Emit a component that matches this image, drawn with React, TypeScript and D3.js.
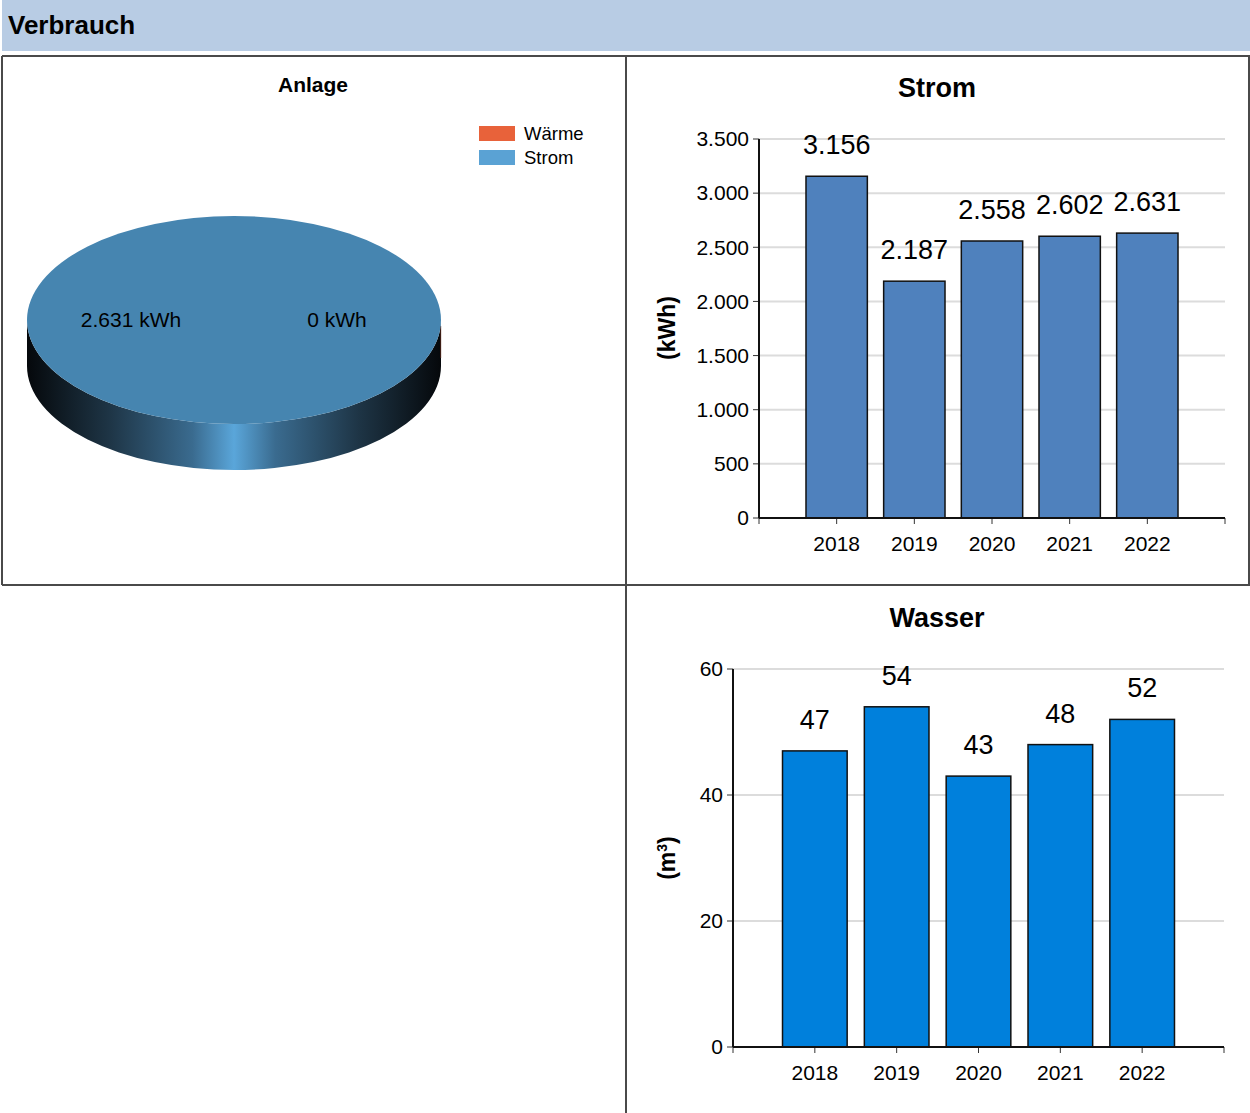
import React from "react";
import * as d3 from "d3";

const years = ["2018", "2019", "2020", "2021", "2022"];
const stromValues = [3156, 2187, 2558, 2602, 2631];
const wasserValues = [47, 54, 43, 48, 52];
const stromTicks = [0, 500, 1000, 1500, 2000, 2500, 3000, 3500];
const wasserTicks = [0, 20, 40, 60];
const pieLabels = ["Wärme", "Strom"];
const pieValues = [0, 2631];
const pieColors = ["#e8623a", "#5aa2d4"];

const locale = d3.formatLocale({ decimal: ",", thousands: ".", grouping: [3], currency: ["", "€"] });
const fmt = locale.format(",d");
const FONT = "'Liberation Sans', Arial, sans-serif";

type BarProps = {
  title: string;
  titleY: number;
  unit: React.ReactNode;
  unitX: number;
  unitY: number;
  values: number[];
  ticks: number[];
  yMax: number;
  x0: number;
  x1: number;
  y0: number;
  y1: number;
  color: string;
  labelYOffset: number;
};

function BarChart(p: BarProps) {
  const x = d3.scalePoint<string>().domain(years).range([p.x0, p.x1]).padding(1);
  const step = x.step();
  const bw = step * 0.79;
  const y = d3.scaleLinear().domain([0, p.yMax]).range([p.y0, p.y1]);
  return (
    <g fontFamily={FONT}>
      <text x={937} y={p.titleY} textAnchor="middle" fontSize={27} fontWeight="bold">{p.title}</text>
      {p.ticks.map((t) => (
        <g key={t}>
          {t > 0 && <line x1={p.x0} x2={p.x1} y1={y(t)} y2={y(t)} stroke="#dcdcdc" strokeWidth={2} />}
          <line x1={p.x0 - 6} x2={p.x0} y1={y(t)} y2={y(t)} stroke="#333" strokeWidth={1} />
          <text x={p.x0 - 10} y={y(t)} dy="0.35em" textAnchor="end" fontSize={21}>{fmt(t)}</text>
        </g>
      ))}
      {years.map((yr, i) => (
        <g key={yr}>
          <rect x={x(yr)! - bw / 2} y={y(p.values[i])} width={bw} height={p.y0 - y(p.values[i])}
            fill={p.color} stroke="#111" strokeWidth={1.5} />
          <text x={x(yr)!} y={y(p.values[i]) - p.labelYOffset} textAnchor="middle" fontSize={27}>{fmt(p.values[i])}</text>
          <line x1={x(yr)!} x2={x(yr)!} y1={p.y0} y2={p.y0 + 6} stroke="#333" strokeWidth={1} />
          <text x={x(yr)!} y={p.y0 + 33} textAnchor="middle" fontSize={21}>{yr}</text>
        </g>
      ))}
      <line x1={p.x1} x2={p.x1} y1={p.y0} y2={p.y0 + 6} stroke="#333" strokeWidth={1} />
      <line x1={p.x0} x2={p.x0} y1={p.y0} y2={p.y0 + 6} stroke="#333" strokeWidth={1} />
      <line x1={p.x0} x2={p.x0} y1={p.y1} y2={p.y0} stroke="#111" strokeWidth={2} />
      <line x1={p.x0} x2={p.x1} y1={p.y0} y2={p.y0} stroke="#111" strokeWidth={2} />
      <text transform={`translate(${p.unitX},${p.unitY}) rotate(-90)`} textAnchor="middle" fontSize={23} fontWeight="bold">{p.unit}</text>
    </g>
  );
}

function Pie3D() {
  const cx = 234, cy = 320, rx = 207, ry = 104, depth = 46;
  const pie = d3.pie<number>().sort(null).startAngle(Math.PI / 2).endAngle(Math.PI / 2 + 2 * Math.PI);
  const arcs = pie(pieValues);
  const arc = d3.arc<d3.PieArcDatum<number>>().innerRadius(0).outerRadius(rx);
  const side = `M${cx - rx},${cy} L${cx - rx},${cy + depth} A${rx},${ry} 0 0 0 ${cx + rx},${cy + depth} L${cx + rx},${cy} A${rx},${ry} 0 0 1 ${cx - rx},${cy} Z`;
  return (
    <g fontFamily={FONT}>
      <defs>
        <linearGradient id="sideGrad" x1={cx - rx} x2={cx + rx} y1={0} y2={0} gradientUnits="userSpaceOnUse">
          <stop offset="0" stopColor="#05080b" />
          <stop offset="0.2" stopColor="#1e3546" />
          <stop offset="0.4" stopColor="#3a6b8f" />
          <stop offset="0.5" stopColor="#5aa6da" />
          <stop offset="0.6" stopColor="#3a6b8f" />
          <stop offset="0.8" stopColor="#1e3546" />
          <stop offset="1" stopColor="#05080b" />
        </linearGradient>
      </defs>
      <path d={side} fill="url(#sideGrad)" />
      <line x1={cx + rx - 0.3} x2={cx + rx - 0.3} y1={cy + 6} y2={cy + depth - 8} stroke="#5a2a1c" strokeWidth={0.8} />
      <g transform={`translate(${cx},${cy}) scale(1,${ry / rx})`}>
        {arcs.map((a, i) => (
          <path key={i} d={arc(a) || ""} fill={i === 1 ? "#4685b0" : "#c4552f"} />
        ))}
      </g>
      <text x={131} y={320} dy="0.35em" textAnchor="middle" fontSize={21}>{fmt(pieValues[1])} kWh</text>
      <text x={337} y={320} dy="0.35em" textAnchor="middle" fontSize={21}>{fmt(pieValues[0])} kWh</text>
      {pieLabels.map((l, i) => (
        <g key={l}>
          <rect x={479} y={126 + i * 24} width={36} height={15} fill={pieColors[i]} />
          <text x={524} y={133.5 + i * 24} dy="0.35em" fontSize={18.5}>{l}</text>
        </g>
      ))}
      <text x={313} y={92} textAnchor="middle" fontSize={21} fontWeight="bold">Anlage</text>
    </g>
  );
}

export default function App() {
  return (
    <svg width={1250} height={1113} style={{ position: "absolute", left: 0, top: 0, background: "#fff" }}>
      <rect x={2} y={0} width={1248} height={51} fill="#b8cce4" />
      <text x={8} y={34} fontFamily={FONT} fontSize={26} fontWeight="bold">Verbrauch</text>
      <g stroke="#4a4a4a" strokeWidth={2} fill="none">
        <line x1={2} x2={1250} y1={56} y2={56} />
        <line x1={2} x2={1250} y1={585} y2={585} />
        <line x1={2} x2={2} y1={56} y2={585} />
        <line x1={626} x2={626} y1={56} y2={1113} />
        <line x1={1249} x2={1249} y1={56} y2={585} />
      </g>
      <Pie3D />
      <BarChart title="Strom" titleY={97} unit="(kWh)" unitX={675} unitY={328}
        values={stromValues} ticks={stromTicks} yMax={3500}
        x0={759} x1={1225} y0={518} y1={139} color="#4f81bd" labelYOffset={22} />
      <BarChart title="Wasser" titleY={627} unit={<>(m<tspan fontSize={14} dy={-8}>3</tspan><tspan dy={8}>)</tspan></>} unitX={675} unitY={858}
        values={wasserValues} ticks={wasserTicks} yMax={60}
        x0={733} x1={1224} y0={1047} y1={669} color="#0080dc" labelYOffset={22} />
    </svg>
  );
}
